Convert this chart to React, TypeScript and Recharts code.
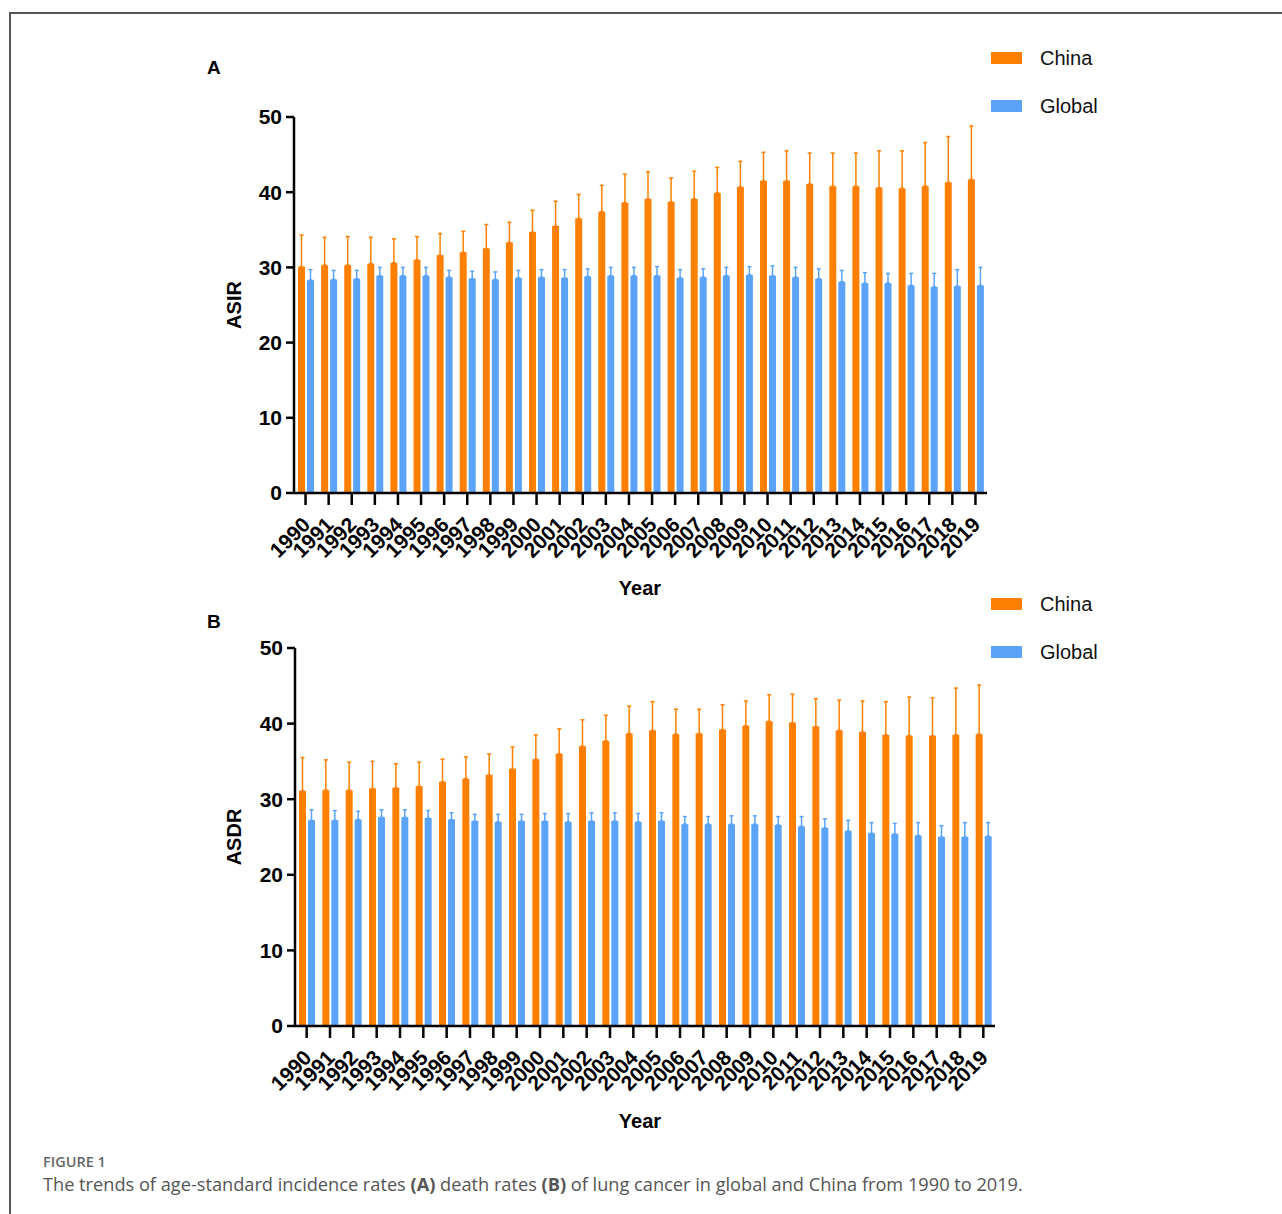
import React from "react";
import { BarChart, Bar, XAxis, YAxis, ErrorBar, Legend } from "recharts";

const years = [
  "1990", "1991", "1992", "1993", "1994", "1995", "1996", "1997", "1998", "1999",
  "2000", "2001", "2002", "2003", "2004", "2005", "2006", "2007", "2008", "2009",
  "2010", "2011", "2012", "2013", "2014", "2015", "2016", "2017", "2018", "2019",
];

// ASIR (panel A)
const asirChina = [
  30.1, 30.3, 30.3, 30.5, 30.6, 31.0, 31.6, 32.0, 32.5, 33.3,
  34.7, 35.5, 36.5, 37.4, 38.6, 39.1, 38.7, 39.1, 39.9, 40.7,
  41.5, 41.5, 41.1, 40.8, 40.8, 40.6, 40.5, 40.8, 41.3, 41.7,
];
const asirChinaUpper = [
  34.3, 34.0, 34.1, 34.0, 33.8, 34.1, 34.5, 34.8, 35.7, 36.0,
  37.6, 38.8, 39.7, 40.9, 42.4, 42.7, 41.9, 42.8, 43.3, 44.1,
  45.3, 45.5, 45.2, 45.2, 45.2, 45.5, 45.5, 46.6, 47.4, 48.8,
];
const asirGlobal = [
  28.3, 28.4, 28.5, 28.9, 28.9, 28.9, 28.7, 28.5, 28.4, 28.6,
  28.7, 28.6, 28.8, 28.9, 28.9, 28.9, 28.6, 28.7, 28.9, 29.0,
  28.9, 28.7, 28.5, 28.1, 27.9, 27.9, 27.6, 27.4, 27.5, 27.6,
];
const asirGlobalUpper = [
  29.7, 29.6, 29.6, 30.0, 30.0, 30.0, 29.6, 29.5, 29.4, 29.6,
  29.7, 29.7, 29.8, 30.0, 30.0, 30.1, 29.7, 29.8, 30.0, 30.1,
  30.2, 30.0, 29.8, 29.6, 29.3, 29.2, 29.2, 29.2, 29.7, 30.0,
];

// ASDR (panel B)
const asdrChina = [
  31.1, 31.2, 31.2, 31.4, 31.5, 31.7, 32.3, 32.7, 33.2, 34.0,
  35.3, 36.0, 37.0, 37.7, 38.7, 39.1, 38.6, 38.7, 39.2, 39.7,
  40.3, 40.1, 39.6, 39.1, 38.9, 38.5, 38.4, 38.4, 38.5, 38.6,
];
const asdrChinaUpper = [
  35.5, 35.2, 34.9, 35.0, 34.7, 34.9, 35.3, 35.6, 36.0, 36.9,
  38.5, 39.3, 40.5, 41.1, 42.3, 42.9, 41.9, 41.9, 42.5, 43.0,
  43.8, 43.9, 43.3, 43.1, 43.0, 42.9, 43.5, 43.4, 44.7, 45.1,
];
const asdrGlobal = [
  27.2, 27.2, 27.3, 27.6, 27.6, 27.5, 27.3, 27.1, 27.0, 27.1,
  27.1, 27.0, 27.1, 27.1, 27.0, 27.1, 26.7, 26.7, 26.7, 26.7,
  26.6, 26.4, 26.2, 25.8, 25.5, 25.4, 25.2, 25.0, 25.0, 25.1,
];
const asdrGlobalUpper = [
  28.6, 28.5, 28.4, 28.6, 28.6, 28.5, 28.2, 28.0, 28.0, 28.0,
  28.1, 28.1, 28.2, 28.2, 28.1, 28.2, 27.7, 27.7, 27.8, 27.8,
  27.7, 27.7, 27.4, 27.2, 26.9, 26.8, 26.9, 26.5, 26.9, 26.9,
];

const yTicks = [0, 10, 20, 30, 40, 50];

const ORANGE = "#FF8000";
const BLUE = "#5BA3F9";
const FONT = "'Liberation Sans', Arial, sans-serif";

function buildRows(china: number[], chinaUp: number[], global: number[], globalUp: number[]) {
  return years.map((year, i) => ({
    year,
    China: china[i],
    Global: global[i],
    chinaErr: [0, +(chinaUp[i] - china[i]).toFixed(2)],
    globalErr: [0, +(globalUp[i] - global[i]).toFixed(2)],
  }));
}

const YearTick = (props: any) => {
  const { x, y, payload } = props;
  const tx = x + 6;
  const ty = y + 19;
  return (
    <text
      x={tx}
      y={ty}
      transform={`rotate(-45 ${tx} ${ty})`}
      textAnchor="end"
      fontFamily={FONT}
      fontWeight="bold"
      fontSize={21}
      fill="#000"
    >
      {payload.value}
    </text>
  );
};

const LegendBox = (props: any) => (
  <div style={{ fontFamily: FONT, fontSize: 20, color: "#111" }}>
    {(props.payload || []).map((p: any) => (
      <div key={p.value} style={{ display: "flex", alignItems: "center", height: 48 }}>
        <div style={{ width: 31, height: 12, background: p.color, marginRight: 18 }} />
        <span>{p.value}</span>
      </div>
    ))}
  </div>
);

type PanelProps = {
  letter: string;
  letterTop: number;
  yLabel: string;
  rows: ReturnType<typeof buildRows>;
  top: number;
  height: number;
  plotTop: number;
  plotBottom: number;
  axisLeft: number;
  axisRight: number;
  legendTop: number;
};

function Panel({ letter, letterTop, yLabel, rows, top, height, plotTop, plotBottom, axisLeft, axisRight, legendTop }: PanelProps) {
  const W = 1282;
  const midY = (plotTop + plotBottom) / 2;
  return (
    <div style={{ position: "absolute", left: 0, top, width: W, height }}>
      <div style={{ position: "absolute", left: 207, top: letterTop, fontFamily: FONT, fontWeight: "bold", fontSize: 19 }}>
        {letter}
      </div>
      <div
        style={{
          position: "absolute", left: 234, top: midY, fontFamily: FONT, fontWeight: "bold", fontSize: 20,
          transform: "translate(-50%, -50%) rotate(-90deg)", whiteSpace: "nowrap",
        }}
      >
        {yLabel}
      </div>
      <div
        style={{
          position: "absolute", left: 640, top: plotBottom + 95, fontFamily: FONT,
          fontWeight: "bold", fontSize: 20, transform: "translate(-50%, -50%)",
        }}
      >
        Year
      </div>
      <BarChart
        width={W}
        height={height}
        data={rows}
        margin={{ top: plotTop, right: W - axisRight, left: 0, bottom: 0 }}
        barSize={7}
        barGap={2}
      >
        <XAxis
          dataKey="year"
          interval={0}
          height={height - plotBottom}
          axisLine={{ stroke: "#000", strokeWidth: 2.5 }}
          tickLine={{ stroke: "#000", strokeWidth: 2.5 }}
          tickSize={12}
          tick={<YearTick />}
        />
        <YAxis
          width={axisLeft}
          domain={[0, 50]}
          ticks={yTicks}
          interval={0}
          axisLine={{ stroke: "#000", strokeWidth: 2.5 }}
          tickLine={{ stroke: "#000", strokeWidth: 2.5 }}
          tickSize={8}
          tickMargin={4}
          tick={{ fontFamily: FONT, fontWeight: "bold", fontSize: 21, fill: "#000" }}
        />
        <Legend
          layout="vertical"
          verticalAlign="middle"
          align="center"
          content={<LegendBox />}
          wrapperStyle={{ position: "absolute", left: 991, top: legendTop, width: 150 }}
        />
        <Bar dataKey="China" fill={ORANGE} isAnimationActive={false}>
          <ErrorBar dataKey="chinaErr" direction="y" width={2} stroke={ORANGE} strokeWidth={1.5} />
        </Bar>
        <Bar dataKey="Global" fill={BLUE} isAnimationActive={false}>
          <ErrorBar dataKey="globalErr" direction="y" width={2} stroke={BLUE} strokeWidth={1.5} />
        </Bar>
      </BarChart>
    </div>
  );
}

export default function App() {
  const rowsA = buildRows(asirChina, asirChinaUpper, asirGlobal, asirGlobalUpper);
  const rowsB = buildRows(asdrChina, asdrChinaUpper, asdrGlobal, asdrGlobalUpper);
  return (
    <div style={{ position: "absolute", left: 0, top: 0, width: 1282, height: 1214, overflow: "hidden", background: "#fff" }}>
      <div
        style={{
          position: "absolute", left: 9, top: 12, width: 1320, height: 1260,
          borderLeft: "2px solid #555", borderTop: "2px solid #555",
        }}
      />
      <Panel
        letter="A" letterTop={57} yLabel="ASIR" rows={rowsA} top={0} height={610}
        plotTop={117} plotBottom={493} axisLeft={294} axisRight={987} legendTop={34}
      />
      <Panel
        letter="B" letterTop={51} yLabel="ASDR" rows={rowsB} top={560} height={620}
        plotTop={88} plotBottom={466} axisLeft={295} axisRight={995} legendTop={20}
      />
      <div style={{ position: "absolute", left: 43, top: 1152, fontFamily: "'Open Sans', Lato, sans-serif", fontSize: 14.5, fontWeight: 600, color: "#666" }}>
        FIGURE 1
      </div>
      <div style={{ position: "absolute", left: 43, top: 1172, fontFamily: "'Open Sans', Lato, sans-serif", fontSize: 18.2, color: "#555", whiteSpace: "nowrap" }}>
        The trends of age-standard incidence rates <b>(A)</b> death rates <b>(B)</b> of lung cancer in global and China from 1990 to 2019.
      </div>
    </div>
  );
}
